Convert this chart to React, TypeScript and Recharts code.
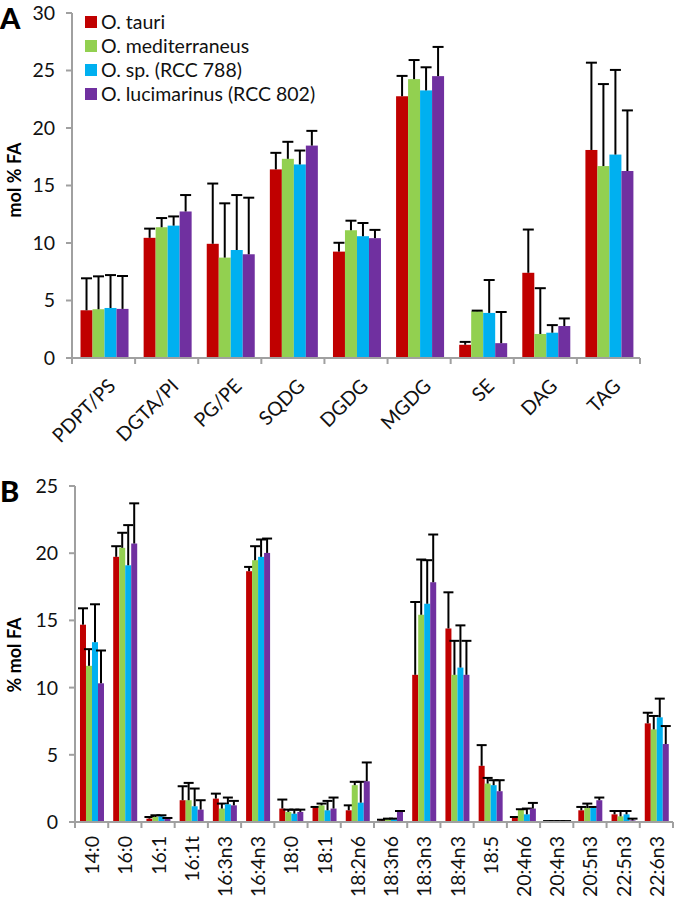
import React from "react";
import { BarChart, Bar, XAxis, YAxis } from "recharts";

// Panel A: lipid classes
const classesA = ["PDPT/PS", "DGTA/PI", "PG/PE", "SQDG", "DGDG", "MGDG", "SE", "DAG", "TAG"];
const tauriA = [4.15, 10.45, 9.93, 16.4, 9.25, 22.76, 1.15, 7.41, 18.09];
const tauriErrA = [2.78, 0.8, 5.24, 1.44, 0.77, 1.77, 0.25, 3.76, 7.59];
const mediA = [4.24, 11.37, 8.73, 17.32, 11.11, 24.25, 4.07, 2.09, 16.69];
const mediErrA = [2.86, 0.8, 4.72, 1.48, 0.83, 1.66, 0.05, 3.98, 7.13];
const spA = [4.35, 11.51, 9.39, 16.83, 10.59, 23.27, 3.92, 2.2, 17.69];
const spErrA = [2.86, 0.8, 4.78, 1.21, 1.15, 2.01, 2.86, 0.66, 7.36];
const lucA = [4.27, 12.74, 9.02, 18.47, 10.42, 24.51, 1.29, 2.78, 16.26];
const lucErrA = [2.86, 1.43, 4.92, 1.28, 0.72, 2.54, 2.71, 0.66, 5.27];
const ticksA = [0, 5, 10, 15, 20, 25, 30];

// Panel B: fatty acids
const acidsB = ["14:0", "16:0", "16:1", "16:1t", "16:3n3", "16:4n3", "18:0", "18:1", "18:2n6", "18:3n6", "18:3n3", "18:4n3", "18:5", "20:4n6", "20:4n3", "20:5n3", "22:5n3", "22:6n3"];
const tauriB = [14.68, 19.73, 0.25, 1.62, 1.74, 18.66, 1.0, 1.07, 0.87, 0.12, 10.95, 14.4, 4.18, 0.32, 0.05, 0.87, 0.57, 7.34];
const tauriErrB = [1.22, 0.79, 0.12, 1.04, 0.37, 0.32, 0.67, 0.05, 0.37, 0.05, 5.42, 2.69, 1.54, 0.05, 0.02, 0.25, 0.25, 0.79];
const mediB = [11.62, 20.4, 0.37, 1.62, 1.0, 19.48, 0.75, 1.24, 2.74, 0.2, 15.42, 10.95, 2.86, 0.92, 0.05, 1.04, 0.42, 6.89];
const mediErrB = [1.24, 1.12, 0.13, 1.29, 0.37, 1.04, 0.17, 0.13, 0.25, 0.05, 4.11, 2.53, 0.42, 0.03, 0.02, 0.33, 0.4, 1.0];
const spB = [13.38, 19.1, 0.42, 1.17, 1.32, 19.73, 0.62, 0.87, 1.44, 0.2, 16.24, 11.49, 2.74, 0.57, 0.05, 1.04, 0.57, 7.79];
const spErrB = [2.82, 2.99, 0.08, 1.32, 0.5, 1.29, 0.3, 0.7, 1.55, 0.05, 3.24, 3.14, 0.37, 0.43, 0.02, 0.08, 0.25, 1.39];
const lucB = [10.32, 20.72, 0.25, 0.92, 1.24, 20.02, 0.75, 1.0, 3.03, 0.75, 17.84, 10.95, 2.29, 1.0, 0.05, 1.62, 0.12, 5.8];
const lucErrB = [2.44, 2.99, 0.05, 0.7, 0.33, 1.07, 0.17, 0.82, 1.4, 0.07, 3.55, 2.53, 0.82, 0.42, 0.02, 0.2, 0.13, 1.34];
const ticksB = [0, 5, 10, 15, 20, 25];

const seriesNames = ["O. tauri", "O. mediterraneus", "O. sp. (RCC 788)", "O. lucimarinus (RCC 802)"];
const COLORS = ["#C00000", "#92D050", "#00B0F0", "#7030A0"];
const KEYS = ["tauri", "medi", "sp", "luc"];

const FONT = "Lato, 'Open Sans', sans-serif";
const AXIS = "#a0a0a0";
const W = 677;

const rowsA = classesA.map((name, i) => ({
  name,
  tauri: tauriA[i], tauriErr: tauriErrA[i],
  medi: mediA[i], mediErr: mediErrA[i],
  sp: spA[i], spErr: spErrA[i],
  luc: lucA[i], lucErr: lucErrA[i],
}));

const rowsB = acidsB.map((name, i) => ({
  name,
  tauri: tauriB[i], tauriErr: tauriErrB[i],
  medi: mediB[i], mediErr: mediErrB[i],
  sp: spB[i], spErr: spErrB[i],
  luc: lucB[i], lucErr: lucErrB[i],
}));

// plot geometry
const A_LEFT = 72, A_RIGHT = 640;
const B_LEFT = 75, B_RIGHT = 673;
const BAND_A = (A_RIGHT - A_LEFT) / classesA.length;
const BAND_B = (B_RIGHT - B_LEFT) / acidsB.length;

// bar + upper error bar (Excel style)
const BarWithErr = (props: any) => {
  const { x, y, width, height, fill, value, payload, errKey, capW } = props;
  const v = Array.isArray(value) ? value[1] - value[0] : value;
  const perUnit = v ? height / v : 0;
  const err = payload[errKey] || 0;
  const cx = x + width / 2;
  const top = y - err * perUnit;
  return (
    <g>
      <rect x={x} y={y} width={width} height={height} fill={fill} />
      {err > 0 && (
        <g stroke="#000" strokeWidth={2}>
          <line x1={cx} x2={cx} y1={y} y2={top} />
          <line x1={cx - capW / 2} x2={cx + capW / 2} y1={top} y2={top} />
        </g>
      )}
    </g>
  );
};

const TickA = (props: any) => {
  const { x, y, payload, index } = props;
  const tx = x + 8, ty = y + 24;
  return (
    <g>
      <line x1={x + BAND_A / 2} x2={x + BAND_A / 2} y1={y} y2={y + 6} stroke={AXIS} strokeWidth={2} />
      {index === 0 && <line x1={x - BAND_A / 2} x2={x - BAND_A / 2} y1={y} y2={y + 6} stroke={AXIS} strokeWidth={2} />}
      <text x={tx} y={ty} textAnchor="end" dominantBaseline="central" transform={`rotate(-45 ${tx} ${ty})`}
        fontFamily={FONT} fontSize={19.5} fill="#111">{payload.value}</text>
    </g>
  );
};

const TickB = (props: any) => {
  const { x, y, payload, index } = props;
  const ty = y + 14;
  return (
    <g>
      <line x1={x + BAND_B / 2} x2={x + BAND_B / 2} y1={y} y2={y + 6} stroke={AXIS} strokeWidth={2} />
      {index === 0 && <line x1={x - BAND_B / 2} x2={x - BAND_B / 2} y1={y} y2={y + 6} stroke={AXIS} strokeWidth={2} />}
      <text x={x} y={ty} textAnchor="end" dominantBaseline="central" transform={`rotate(-90 ${x} ${ty})`}
        fontFamily={FONT} fontSize={19.5} fill="#111">{payload.value}</text>
    </g>
  );
};

const LegendBox = () => (
  <div style={{ position: "absolute", left: 85, top: 10, fontFamily: FONT, fontSize: 19.5, color: "#111", lineHeight: "24px" }}>
    {seriesNames.map((n, i) => (
      <div key={n} style={{ display: "flex", alignItems: "center", whiteSpace: "nowrap" }}>
        <span style={{ width: 12, height: 12, background: COLORS[i], marginRight: 4, display: "inline-block" }} />
        <span>{n}</span>
      </div>
    ))}
  </div>
);

const yTitle = (letter: string, title: string, letterY: number, titleY: number) => () => (
  <g>
    <text x={0} y={letterY} fontFamily={FONT} fontWeight={900} fontSize={29} fill="#000">{letter}</text>
    <text x={14} y={titleY} transform={`rotate(-90 14 ${titleY})`} textAnchor="middle" dominantBaseline="central"
      fontFamily={FONT} fontWeight={700} fontSize={18} fill="#000">{title}</text>
  </g>
);

const renderBars = (capW: number) =>
  KEYS.map((k, i) => (
    <Bar key={k} dataKey={k} name={seriesNames[i]} fill={COLORS[i]} isAnimationActive={false}
      shape={(p: any) => <BarWithErr {...p} errKey={k + "Err"} capW={capW} />} />
  ));

const yTick = { fontFamily: FONT, fontSize: 19.5, fill: "#111" };

export default function App() {
  return (
    <div style={{ position: "absolute", left: 0, top: 0, width: W, height: 900, background: "#fff" }}>
      <div style={{ position: "absolute", left: 0, top: 0 }}>
        <BarChart width={W} height={450} data={rowsA} barGap={0} barCategoryGap="13.5%"
          margin={{ top: 13, right: W - A_RIGHT, bottom: 12, left: A_LEFT - 50 }}>
          <XAxis dataKey="name" interval={0} tickSize={0} tickMargin={0} tickLine={false}
            axisLine={{ stroke: AXIS, strokeWidth: 2 }} height={80} tick={<TickA />} />
          <YAxis width={50} domain={[0, 30]} ticks={ticksA} interval={0} tickSize={6} tickMargin={11}
            axisLine={{ stroke: AXIS, strokeWidth: 2 }} tickLine={{ stroke: AXIS, strokeWidth: 2 }}
            tick={yTick} label={{ content: yTitle("A", "mol % FA", 29, 180) }} />
          {renderBars(11)}
        </BarChart>
        <LegendBox />
      </div>
      <div style={{ position: "absolute", left: 0, top: 450 }}>
        <BarChart width={W} height={450} data={rowsB} barGap={0} barCategoryGap="15%"
          margin={{ top: 36, right: W - B_RIGHT, bottom: 8, left: B_LEFT - 50 }}>
          <XAxis dataKey="name" interval={0} tickSize={0} tickMargin={0} tickLine={false}
            axisLine={{ stroke: AXIS, strokeWidth: 2 }} height={70} tick={<TickB />} />
          <YAxis width={50} domain={[0, 25]} ticks={ticksB} interval={0} tickSize={6} tickMargin={11}
            axisLine={{ stroke: AXIS, strokeWidth: 2 }} tickLine={{ stroke: AXIS, strokeWidth: 2 }}
            tick={yTick} label={{ content: yTitle("B", "% mol FA", 52, 205) }} />
          {renderBars(10)}
        </BarChart>
      </div>
    </div>
  );
}
